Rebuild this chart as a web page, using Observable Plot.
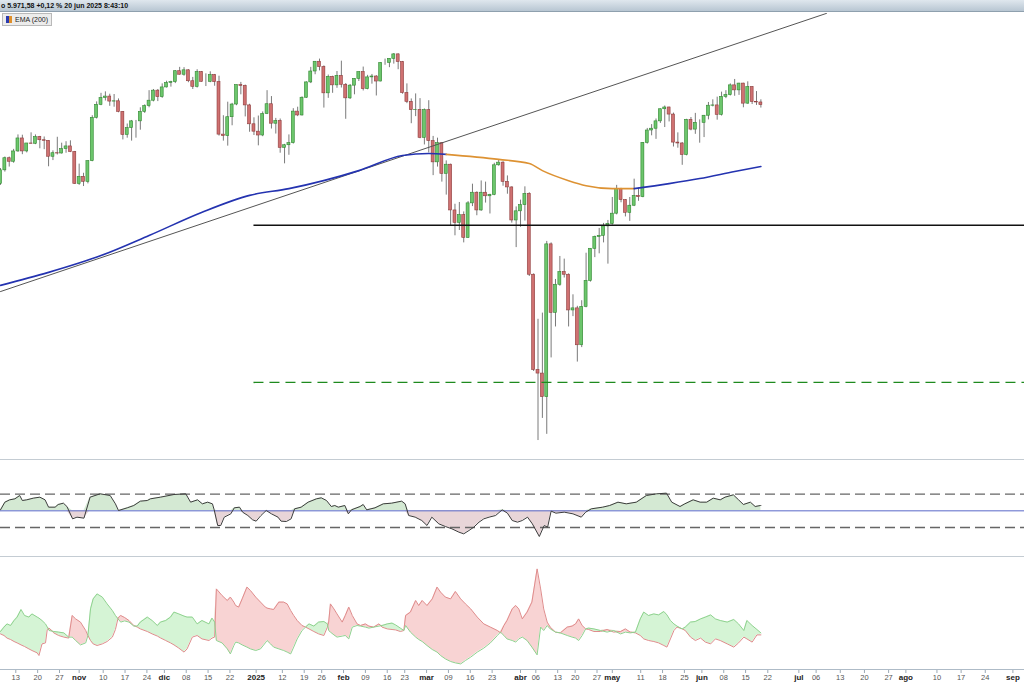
<!DOCTYPE html>
<html><head><meta charset="utf-8">
<script src="https://cdn.jsdelivr.net/npm/d3@7"></script>
<script src="https://cdn.jsdelivr.net/npm/@observablehq/plot@0.6"></script>
<style>
body{margin:0;background:#fff;font-family:"Liberation Sans",Arial,sans-serif;}
#root{position:relative;width:1024px;height:683px;overflow:hidden;background:#fff}
#root svg{position:absolute;left:0;background:transparent}
.hdr{position:absolute;left:0;top:0;width:1024px;height:12px;background:linear-gradient(#dfe7ee,#b8c6d2);border-bottom:1px solid #8fa0ae;font:bold 7px "Liberation Sans",Arial,sans-serif;line-height:12px;white-space:nowrap;color:#111;padding-left:1px;box-sizing:border-box}
.leg{position:absolute;left:2px;top:13px;height:11px;padding:0 3px 0 3px;background:#ececec;border:1px solid #b9b9b9;font:7px "Liberation Sans",Arial,sans-serif;line-height:11px;color:#222;white-space:nowrap}
.leg i{display:inline-block;width:3px;height:7px;vertical-align:-1px}
.sep{position:absolute;left:0;width:1024px;height:1px;background:#c4ccd3}
</style></head><body><div id="root">
<div class="hdr">o 5.971,58 +0,12 % 20 jun 2025 8:43:10</div>
<div class="leg"><i style="background:#2a3ab0"></i><i style="background:#e0902a;margin-right:3px"></i>EMA (200)</div>
<div class="sep" style="top:459px"></div>
<div class="sep" style="top:556px"></div>
<div class="sep" style="top:669px;background:#aebbc7"></div>
</div>
<script>
// ---- trading days (categories) ----
const tradingMonths = ["2024-10","2024-11","2024-12","2025-01","2025-02","2025-03","2025-04","2025-05","2025-06"];
const tradingDaysOfMonth = [
 [8,9,10,11,14,15,16,17,18,21,22,23,24,25,28,29,30,31],
 [1,4,5,6,7,8,11,12,13,14,15,18,19,20,21,22,25,26,27,29],
 [2,3,4,5,6,9,10,11,12,13,16,17,18,19,20,23,24,26,27,30,31],
 [2,3,6,7,8,10,13,14,15,16,17,21,22,23,24,27,28,29,30,31],
 [3,4,5,6,7,10,11,12,13,14,18,19,20,21,24,25,26,27,28],
 [3,4,5,6,7,10,11,12,13,14,17,18,19,20,21,24,25,26,27,28,31],
 [1,2,3,4,7,8,9,10,11,14,15,16,17,21,22,23,24,25,28,29,30],
 [1,2,5,6,7,8,9,12,13,14,15,16,19,20,21,22,23,27,28,29,30],
 [2,3,4,5,6,9,10,11,12,13,16,17,18,20]
];
// ---- OHLC ----
const opens = [
 5705,5751,5792,5780,5815,5859,5815,5842,5841,5864,5853,5851,5797,5809,5808,5823,5832,5813,
 5705,5729,5712,5782,5929,5973,5996,6001,5984,5985,5949,5871,5894,5917,5917,5949,5969,5987,6021,5999,
 6032,6047,6050,6087,6075,6090,6053,6034,6084,6051,6051,6074,6050,5872,5867,5931,5974,6040,6037,5971,5907,
 5882,5869,5942,5975,5909,5918,5827,5836,5843,5950,5937,5997,6049,6086,6119,6101,6012,6068,6039,6071,
 6041,5995,6038,6061,6084,6026,6066,6069,6052,6115,6115,6129,6144,6118,6013,5983,5955,5956,5861,
 5955,5850,5778,5843,5739,5770,5615,5573,5599,5522,5639,5675,5615,5675,5663,5668,5768,5777,5712,5693,5581,
 5612,5633,5671,5397,5074,5062,4982,5500,5268,5363,5406,5397,5276,5283,5158,5288,5376,5485,5525,5529,5561,
 5569,5604,5687,5650,5607,5631,5664,5660,5844,5886,5892,5917,5958,5964,5940,5845,5842,5803,5922,5889,5912,
 5912,5936,5970,5971,5939,6000,6006,6039,6022,6045,5977,6033,5983,5981];
const highs = [
 5757,5796,5796,5822,5871,5870,5842,5878,5871,5866,5864,5852,5817,5863,5843,5848,5851,5815,
 5772,5741,5783,5936,5983,6012,6017,6009,6008,5993,5950,5908,5920,5920,5963,5973,6021,6025,6025,6044,
 6053,6053,6089,6100,6099,6092,6066,6092,6086,6078,6085,6076,6070,5936,5982,5978,6040,6049,6040,5975,5929,
 5935,5949,6021,6001,5927,5925,5839,5871,5960,5965,6000,6051,6100,6119,6128,6105,6074,6070,6086,6121,
 6045,6042,6062,6084,6101,6073,6076,6072,6116,6128,6129,6147,6146,6120,6044,5993,6010,5994,5959,
 5987,5866,5860,5845,5783,5772,5636,5642,5610,5645,5704,5678,5715,5711,5670,5775,5786,5780,5732,5695,5627,
 5650,5695,5675,5400,5246,5267,5510,5505,5381,5459,5450,5400,5329,5290,5309,5470,5485,5528,5554,5571,5581,
 5659,5700,5690,5652,5659,5721,5691,5845,5893,5906,5925,5959,5969,5965,5945,5878,5845,5924,5930,5944,5922,
 5937,5981,5990,5999,6016,6021,6044,6059,6046,6046,6051,6035,6018,5990];
const lows = [
 5700,5745,5762,5775,5812,5804,5810,5840,5838,5824,5821,5763,5784,5803,5806,5809,5811,5703,
 5700,5696,5705,5780,5925,5970,5986,5968,5965,5946,5854,5860,5850,5860,5887,5944,5963,5983,5984,5995,
 6030,6033,6045,6074,6070,6048,6025,6030,6050,6035,6048,6036,5867,5850,5833,5902,5970,6007,5932,5880,5869,
 5834,5865,5940,5891,5874,5809,5773,5802,5840,5933,5935,5995,6045,6075,6088,5962,5995,6012,6029,6030,
 5924,5991,6007,6052,6020,6024,6043,6003,6051,6107,6099,6111,6092,6009,5977,5909,5933,5858,5837,
 5810,5733,5762,5711,5667,5564,5529,5547,5505,5520,5628,5597,5612,5640,5603,5665,5765,5697,5670,5572,5489,
 5558,5579,5391,5069,4835,4910,4856,5115,5220,5358,5386,5220,5255,5101,5150,5285,5372,5455,5468,5505,5433,
 5565,5600,5641,5593,5578,5628,5646,5658,5840,5868,5856,5910,5896,5915,5830,5826,5768,5800,5885,5873,5843,
 5862,5922,5966,5921,5935,5994,6003,6002,6005,5963,5975,5974,5971,5962];
const closes = [
 5751,5792,5780,5815,5859,5815,5842,5841,5864,5853,5851,5797,5809,5808,5823,5832,5813,5705,
 5729,5712,5782,5929,5973,5996,6001,5984,5985,5949,5871,5894,5917,5917,5949,5969,5987,6021,5999,6032,
 6047,6050,6087,6075,6090,6053,6034,6084,6051,6051,6074,6050,5872,5867,5931,5974,6040,6037,5971,5907,5882,
 5869,5942,5975,5909,5918,5827,5836,5843,5950,5937,5997,6049,6086,6119,6101,6012,6068,6039,6071,6041,
 5995,6038,6061,6084,6026,6066,6069,6052,6115,6115,6129,6144,6118,6013,5983,5955,5956,5861,5955,
 5850,5778,5843,5739,5770,5615,5573,5599,5522,5639,5675,5615,5675,5663,5668,5768,5777,5712,5693,5581,5612,
 5633,5671,5397,5074,5062,4982,5500,5268,5363,5406,5397,5276,5283,5158,5288,5376,5485,5525,5529,5561,5569,
 5604,5687,5650,5607,5631,5664,5660,5844,5886,5892,5917,5958,5964,5940,5845,5842,5803,5922,5889,5912,5912,
 5936,5970,5971,5939,6000,6006,6039,6022,6045,5977,6033,5983,5981,5972];
// ---- EMA(200), by trading-day number ----
const emaDay = [0,11,23,34,46,57,66,82,92,98,102, 102,114,121,124,130,134,140,145, 145,153,160,168,174];
const emaVal = [5361,5405,5462,5530,5608,5666,5689,5750,5801,5808,5805, 5805,5788,5774,5750,5716,5699,5689,5689, 5689,5706,5723,5747,5764];
const emaSeg = [0,0,0,0,0,0,0,0,0,0,0, 1,1,1,1,1,1,1,1, 2,2,2,2,2];
// ---- drawn lines ----
const trendDates = ["2024-10-08","2025-07-09"];
const trendPrices = [5340, 6283];
const levelStart = "2024-12-31", levelEnd = "2025-09-06";
const resistanceLevel = 5565;
const supportLevel = 5032;
// ---- oscillator (panel 2) ----
const oscDay = [0,1,2.1,3.3,4.4,5,6,7.5,9,10.2,11,12.5,13.2,14.4,15.2,16.5,17.5,19.1,20.5,22.8,25.1,26.3,27,29,30.5,32,33.6,34.3,36.6,39.7,42.4,43.5,45.1,46.2,47.4,48.5,48.9,49.7,50.4,51.2,52.7,53.5,54.7,55.4,56.6,57.7,58.5,59.6,60.8,62,63.5,64.2,65.4,66.5,67.3,68.8,70.4,72.3,73.4,74.6,75.7,76.5,77.3,78.8,79.6,80.3,82.3,83,83.8,85.7,87.6,89.5,91.8,92.6,93.4,94.9,96.4,97.6,98.7,100.3,101.8,103.3,104.9,106,107.2,108.3,109.5,110.6,111.8,113.3,114.8,116,117.1,118.3,119.4,120.6,121.7,123.3,124.4,125.2,126,127.1,129,131,132.9,133.9,135.2,137.8,139.4,141.3,143.2,145.5,147.8,150.1,152.4,153.6,155.5,156.6,158.5,160.1,161.6,163.1,164.7,165.8,167.7,168.9,170,171.6,172.7,173.9,174];
const oscVal = [51.2,60.4,63.2,64.4,68.4,62.4,63.2,65.2,66.4,63.2,54.4,54.4,57.6,59.2,55.2,40.4,42.4,41.2,66.4,70.4,68.4,58.4,50.4,53.6,56.4,61.6,62.4,64.4,66.4,69.6,70.4,60.4,63.2,58.4,60.4,58.4,51.2,32.4,32.4,42.4,46.4,53.6,54.4,48.4,44.4,39.2,37.6,44.4,50.4,46.4,42.4,37.6,37.2,40.4,52.4,54.4,60.4,64.4,65.6,62.4,55.2,56.4,54.4,56.4,46.4,51.2,55.2,57.6,51.2,53.6,58.4,59.2,61.6,58.4,44.4,42.4,38.4,32.4,42.4,34.4,31.2,28.4,24.4,22.4,26.4,30.4,36.4,40.4,42.4,44.4,51.2,47.2,38.4,36.4,38.4,42.4,34.4,19.2,32.4,30.4,49.6,47.2,48.4,46.4,42.4,48.4,52.4,54.4,56.4,60.4,58.4,60.4,68.4,70.4,71.2,60.4,55.2,58.4,63.2,60.4,60.4,65.2,63.2,66.4,69.2,63.2,57.6,60.4,55.2,56.4,56.4];
const oscLevels = [70, 30];
const oscMid = 50;
// ---- +DI / -DI (panel 3) ----
const diDay = [0,0.8,1.5,2.3,3.1,3.8,4.7,5.5,6.5,7.2,8.4,8.8,9.5,10.3,10.7,11.1,12.2,13.3,14.5,15.6,16.4,17.2,18.3,19.5,20,20.6,21.2,22.1,23.3,24.4,25.6,26.3,26.9,27.5,28.4,29.4,30.5,31.3,32,33.6,34.7,35.9,36.6,37.8,38.9,39.7,40.8,42,42.7,43.9,45,46.1,47.7,48.4,49,49.4,50.7,51.9,52.6,53.4,53.8,54.5,55.3,56.4,57.2,58.4,59.5,60.6,61,61.8,62.5,63.7,64.8,65.6,66.4,67.1,67.9,69,69.8,70.6,71.7,72.8,74,74.8,75.1,75.5,76.3,77,78.2,78.9,79.7,80.5,81.6,82.4,83.5,84.3,85.4,86.6,87.3,88.5,89.6,90.4,91.5,92.3,92.7,93.8,95,95.7,96.5,97.6,98.8,99.9,100.7,101.8,103,104.1,105.3,106.4,107.6,109.1,110.6,112.1,113.7,114.4,115.2,115.9,117.1,117.9,118.6,119.4,120.5,121.6,122.8,123.6,124.3,125.1,125.8,127,128.1,129.7,130.8,131.6,132.3,133.1,133.9,134.6,135.8,137.3,138.8,140.3,141.9,143,144.1,145.3,146.4,147.2,148.3,149.5,150.6,151.8,152.5,153.3,154.1,154.8,156,156.7,157.9,159,160.2,161.3,162.5,163.6,164.7,166.3,167.8,168.9,170.1,170.8,172,173.1,174];
const plusDI = [17,19.2,20.8,20,22.5,24.2,28,25,24.2,25.8,24.2,23.7,22.5,20.8,19.2,17.5,17,16.7,16.3,14.2,14.2,12.5,10.3,11.3,15,28.3,33.3,35.8,34.2,30.8,27.5,25,23.3,21.7,22.3,21.7,19.7,19.7,21.7,24.2,22.5,20,21.7,22.5,24.2,26.7,25.8,24.7,24.2,24.2,20.8,22.5,20.8,23.7,21.7,12.5,11.3,8.3,5.8,10,11.7,11.3,10.3,9.2,8.3,7.5,8.3,11.3,12.5,10.8,9.2,8.3,7.5,6.7,5.8,9.2,13.3,17.5,19.2,20.8,19.7,21.7,22,20.8,17.5,16.7,15.3,14.2,14.7,15,13.3,19.2,20,19.7,19.2,18.7,19.2,19.7,20,20.8,21.2,20.3,18.7,17.5,20,16.7,14.2,13,12,10,8,6.7,5,3.3,2,1.3,0.8,2.5,4.2,6.7,8.7,11.3,15,16.7,15,13.3,12.5,11.7,13.3,14.2,12.5,9.2,5.3,19.2,17.5,20,18.3,16.7,16.3,15,14.2,13.7,12.5,15,18.3,18.7,18.3,17.5,16.7,17.5,15.8,16.7,16.3,16.7,23.3,26.7,25,25.8,25.3,27,25.3,22.5,20.8,19.7,18.3,19.2,21.7,22,23.3,24.2,25.3,23.3,22.5,21.7,23,20.8,17.5,22.5,20,18,16.3];
const minusDI = [15.8,15,13.7,13,12,11.3,10.3,9.5,8.3,7.5,6.3,5,10.8,11.3,18,18.7,16.3,15,14.2,13.7,25,23.3,21.7,17.5,15,12.5,10.8,10,10.8,12,14.2,18,23.7,25,24,22.5,20,19.2,18.3,17,15.8,14.7,13.8,12.5,11.3,10.3,8.7,6.7,8.3,14.2,15,13.3,12.5,13.7,14.2,38.3,35,32.5,34.2,31.7,30,29.2,33.3,39.2,37.5,34.2,31.7,29.2,28.7,28.3,28,31.7,31.7,30.8,27.5,25,22.5,20,19.2,18.3,17,15.8,15,19.2,21.7,30.8,28.3,25.8,21.7,25,29.2,25,20.8,20,20.8,19.7,19.2,20.8,19.2,18.3,18,17.8,17,17.5,25,26.7,32.5,30,32.5,30,33.3,39.2,36.7,34.2,33.3,37,33.3,30.8,28.3,24.2,20.8,19.2,17.5,16.3,20,22.5,28.3,30,28.3,23.3,26.7,31.7,48.3,38.3,28.3,21.7,19.2,16.7,16.3,19.2,19.7,20.8,23.3,20,18.3,18,17,17,18,16.7,17,18.3,16.7,16.3,15,13.3,12.5,12,11.3,10,9.2,13.3,17.5,19.2,18.3,17.5,14.2,12.5,13.7,11.7,10.8,13.3,12.5,10.8,9.2,11.3,14.2,13.3,11.7,15.3,15.3];
// ---- axis ticks ----
const tickDates = ["2024-10-13","2024-10-20","2024-10-27","2024-11-01","2024-11-10","2024-11-17","2024-11-24","2024-12-01","2024-12-08","2024-12-15","2024-12-22","2025-01-01","2025-01-12","2025-01-19","2025-01-26","2025-02-01","2025-02-09","2025-02-16","2025-02-23","2025-03-01","2025-03-09","2025-03-16","2025-03-23","2025-04-01","2025-04-06","2025-04-13","2025-04-20","2025-04-27","2025-05-01","2025-05-11","2025-05-18","2025-05-25","2025-06-01","2025-06-08","2025-06-15","2025-06-22","2025-07-01","2025-07-06","2025-07-13","2025-07-20","2025-07-27","2025-08-01","2025-08-10","2025-08-17","2025-08-24","2025-09-01"];
const tickLabels = ["13","20","27","nov","10","17","24","dic","08","15","22","2025","12","19","26","feb","09","16","23","mar","09","16","23","abr","06","13","20","27","may","11","18","25","jun","08","15","22","jul","06","13","20","27","ago","10","17","24","sep"];

// ---- build ----
const dates = tradingMonths.flatMap((m,k)=>tradingDaysOfMonth[k].map(d=>`${m}-${String(d).padStart(2,"0")}`));
const T = dates.map(d=>Date.parse(d));
const DAY = 864e5, FUTURE_SLOTS_PER_DAY = 0.79;
function slot(ds){
  const t = Date.parse(ds), last = T[T.length-1];
  if (t > last) return T.length-1 + (t-last)/DAY*FUTURE_SLOTS_PER_DAY;
  const i = T.findIndex(v=>v>=t);
  return T[i]===t ? i : i-0.5;
}
const X = {domain:[0, 1024/4.37], range:[0,1024], axis:null};
const candles = dates.map((d,i)=>({i, o:opens[i], h:highs[i], l:lows[i], c:closes[i], up: closes[i]>=opens[i]}));
const ema = emaDay.map((d,k)=>({d, v:emaVal[k], s:emaSeg[k]}));
const trend = trendDates.map((d,k)=>({x:slot(d), y:trendPrices[k]}));
const x1 = slot(levelStart), x2 = slot(levelEnd);

const main = Plot.plot({
  width:1024, height:446, margin:0, x:X,
  y:{domain:[4770.7, 6282.6], axis:null},
  marks:[
    Plot.ruleX(candles, {x:"i", y1:"l", y2:"h", stroke:"#7a7a7a", strokeWidth:1}),
    Plot.rect(candles, {x1:d=>d.i-0.34, x2:d=>d.i+0.34, y1:"o", y2:"c",
      fill:d=>d.up?"#6cc66c":"#cf7171", stroke:d=>d.up?"#2f862f":"#8e3b3b", strokeWidth:0.6}),
    Plot.ruleY([resistanceLevel], {x1, x2, stroke:"#111", strokeWidth:1.4}),
    Plot.ruleY([supportLevel], {x1, x2, stroke:"#1e8a1e", strokeWidth:1.4, strokeDasharray:"10,6"}),
    Plot.line(trend, {x:"x", y:"y", stroke:"#555", strokeWidth:1, clip:true}),
    Plot.line(ema, {x:"d", y:"v", z:"s", stroke:d=>d.s===1?"#dd9233":"#2433b0", strokeWidth:1.6, curve:"monotone-x"})
  ]
});
main.style.top = "13px";

const osc = oscDay.map((d,k)=>({d, v:oscVal[k]}));
const p2 = Plot.plot({
  width:1024, height:96, margin:0, x:X,
  y:{domain:[-4.8, 110.4], axis:null},
  marks:[
    Plot.areaY(osc, {x:"d", y1:oscMid, y2:d=>Math.max(d.v,oscMid), fill:"#d4e9d3"}),
    Plot.areaY(osc, {x:"d", y1:oscMid, y2:d=>Math.min(d.v,oscMid), fill:"#e8d5d8"}),
    Plot.ruleY(oscLevels, {stroke:"#666", strokeWidth:1.3, strokeDasharray:"10,5"}),
    Plot.ruleY([oscMid], {stroke:"#5867c8", strokeWidth:1}),
    Plot.line(osc, {x:"d", y:"v", stroke:"#3c3c3c", strokeWidth:1})
  ]
});
p2.style.top = "460px";

const di = diDay.map((d,k)=>({d, p:plusDI[k], m:minusDI[k]}));
const p3 = Plot.plot({
  width:1024, height:110, margin:0, x:X,
  y:{domain:[-1, 54], axis:null},
  marks:[
    Plot.areaY(di, {x:"d", y1:"m", y2:d=>Math.max(d.p,d.m), fill:"#d5f4d5"}),
    Plot.areaY(di, {x:"d", y1:"p", y2:d=>Math.max(d.p,d.m), fill:"#f8d3d3"}),
    Plot.line(di, {x:"d", y:"m", stroke:"#df8c8c", strokeWidth:1}),
    Plot.line(di, {x:"d", y:"p", stroke:"#8fd28f", strokeWidth:1})
  ]
});
p3.style.top = "557px";

const ticks = tickDates.map((d,k)=>({x:slot(d), label:tickLabels[k], bold:/[a-z]|2025/.test(tickLabels[k])}));
const ax = Plot.plot({
  width:1024, height:16, margin:0, x:X,
  y:{domain:[0,16], axis:null},
  marks:[
    Plot.ruleX(ticks, {x:"x", y1:13, y2:10, stroke:"#9aa8b4"}),
    Plot.text(ticks.filter(t=>!t.bold), {x:"x", y:6, text:"label", fontSize:7.5, fill:"#555", fontFamily:"Liberation Sans"}),
    Plot.text(ticks.filter(t=>t.bold), {x:"x", y:6, text:"label", fontSize:8, fontWeight:"bold", fill:"#222", fontFamily:"Liberation Sans"})
  ]
});
ax.style.top = "667px";

const root = document.getElementById("root");
[main,p2,p3,ax].forEach(s=>root.appendChild(s));
</script></body></html>
